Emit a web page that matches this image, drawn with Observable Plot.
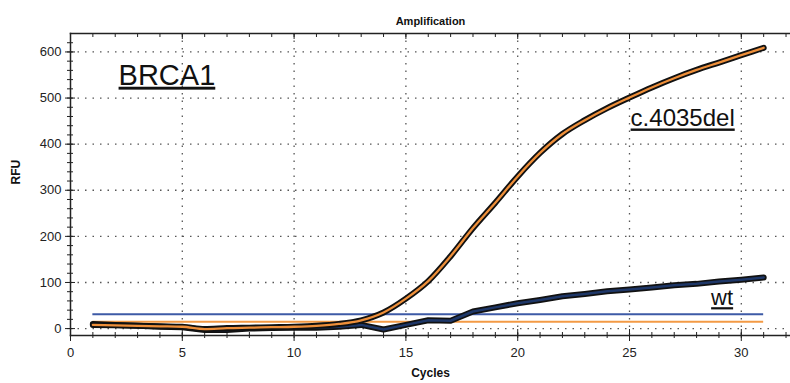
<!DOCTYPE html>
<html><head><meta charset="utf-8">
<script src="https://cdn.jsdelivr.net/npm/d3@7"></script>
<script src="https://cdn.jsdelivr.net/npm/@observablehq/plot@0.6"></script>
<style>
body{margin:0;background:#fff;}
svg{font-family:"Liberation Sans",Arial,sans-serif;}
</style>
</head><body><div id="chart"></div>
<script>
const cycles = d3.range(1, 32);
const del = [8,7,6,5,4,-1,1,2,3,4,6,10,18,35,65,103,157,218,273,330,381,422,452,478,501,523,543,561,577,593,609];
const wt  = [10,8,6,4,3,-3,-3,0,1,2,2,4,8,-2,8,18,17,37,46,55,62,70,75,81,85,89,94,97,102,106,111];
const thresholds = [{v:31, color:"#3d5aa6"}, {v:15, color:"#f39a45"}];
const labels = [
  {x:2.15, y:549, text:"BRCA1", size:29},
  {x:25.05, y:455, text:"c.4035del", size:24},
  {x:28.65, y:66, text:"wt", size:22}
];
const xMajor = [0,5,10,15,20,25,30];
const xMinor = d3.range(1, 33);
const yMajor = [0,100,200,300,400,500,600];
const yMinor = d3.range(0, 640, 20);

const delData = cycles.map((c,i)=>({c, v:del[i]}));
const wtData = cycles.map((c,i)=>({c, v:wt[i]}));

const chart = Plot.plot({
  width: 790, height: 383,
  marginLeft: 70, marginRight: 0, marginTop: 33, marginBottom: 48,
  x: {domain:[0, 32.2]},
  y: {domain:[-15, 640]},
  style: {fontFamily:"Liberation Sans, Arial, sans-serif", fontSize:"13px", color:"#222"},
  marks: [
    Plot.gridX(xMajor.filter(d=>d>0), {stroke:"#444", strokeOpacity:0.9, strokeDasharray:"1.5,6", strokeWidth:1.3}),
    Plot.gridY(yMajor, {stroke:"#444", strokeOpacity:0.9, strokeDasharray:"1.5,6", strokeWidth:1.3}),
    Plot.frame({anchor:"top", stroke:"#222", strokeWidth:1.5}),
    Plot.frame({anchor:"left", stroke:"#222", strokeWidth:1.5}),
    Plot.frame({anchor:"bottom", stroke:"#222", strokeWidth:1.5}),
    Plot.axisX(xMajor, {anchor:"bottom", tickSize:6, tickPadding:6, fontSize:13, label:null, stroke:"#222"}),
    Plot.axisX(xMajor, {anchor:"bottom", tickSize:-6, tickFormat:()=>"", label:null, stroke:"#222"}),
    Plot.axisX(xMinor, {anchor:"bottom", tickSize:3, tickFormat:()=>"", label:null, stroke:"#222"}),
    Plot.axisX(xMinor, {anchor:"bottom", tickSize:-3, tickFormat:()=>"", label:null, stroke:"#222"}),
    Plot.axisX(xMajor, {anchor:"top", tickSize:-5, tickFormat:()=>"", label:null, stroke:"#222"}),
    Plot.axisX(xMinor, {anchor:"top", tickSize:-3, tickFormat:()=>"", label:null, stroke:"#222"}),
    Plot.axisY(yMajor, {anchor:"left", tickSize:5, tickPadding:4, fontSize:13, label:null, stroke:"#222"}),
    Plot.axisY(yMajor, {anchor:"left", tickSize:-5, tickFormat:()=>"", label:null, stroke:"#222"}),
    Plot.axisY(yMinor, {anchor:"left", tickSize:3, tickFormat:()=>"", label:null, stroke:"#222"}),
    Plot.axisY(yMinor, {anchor:"left", tickSize:-3, tickFormat:()=>"", label:null, stroke:"#222"}),
    Plot.ruleY(thresholds, {y:"v", x1:1, x2:31, stroke:"color", strokeWidth:2}),
    Plot.line(wtData, {x:"c", y:"v", stroke:"#111", strokeWidth:6, strokeLinejoin:"round"}),
    Plot.line(wtData, {x:"c", y:"v", stroke:"#1e3768", strokeWidth:2.5, strokeLinejoin:"round"}),
    Plot.line(delData, {x:"c", y:"v", stroke:"#111", strokeWidth:6, strokeLinejoin:"round", curve:"monotone-x"}),
    Plot.line(delData, {x:"c", y:"v", stroke:"#ee8f3a", strokeWidth:2.3, strokeLinejoin:"round", curve:"monotone-x"}),
    Plot.text(labels, {x:"x", y:"y", text:"text", fontSize:d=>d.size, textAnchor:"start", fill:"#111", className:"ul"}),
    Plot.text(["Amplification"], {frameAnchor:"top", dy:-16, fontWeight:"bold", fontSize:11, fill:"#111"}),
    Plot.text(["Cycles"], {frameAnchor:"bottom", dy:41, fontWeight:"bold", fontSize:12, fill:"#111"}),
    Plot.text(["RFU"], {frameAnchor:"left", dx:-54, rotate:-90, fontWeight:"bold", fontSize:12, fill:"#111"})
  ]
});
d3.select(chart).selectAll(".ul text").attr("text-decoration","underline");
document.getElementById("chart").appendChild(chart);
</script>
</body></html>
